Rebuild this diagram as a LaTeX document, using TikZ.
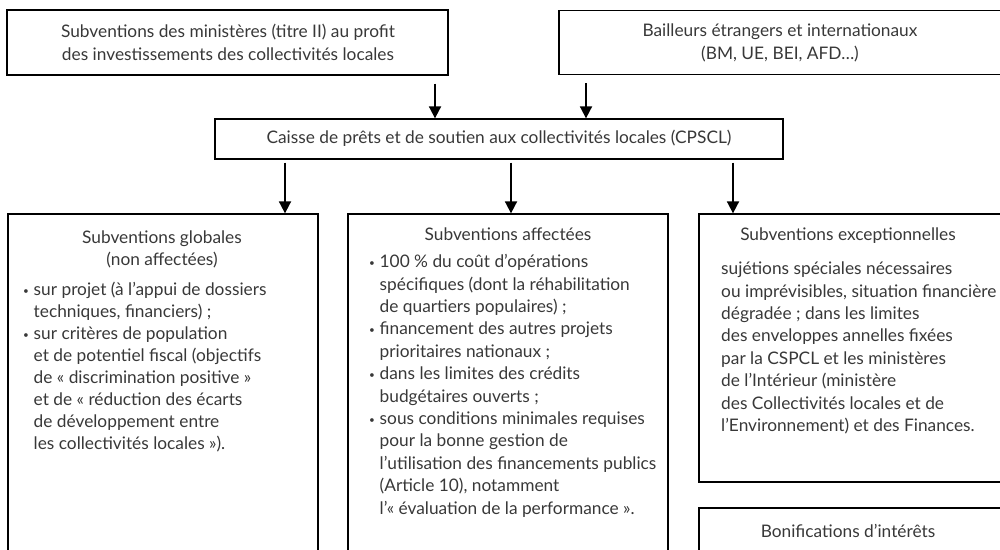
\documentclass[tikz,border=0pt]{standalone}
\usepackage{fontspec}
\setmainfont{Lato}
\usetikzlibrary{arrows.meta}
\definecolor{ink}{HTML}{383838}
\begin{document}
\begin{tikzpicture}[x=1pt,y=-1pt,
  box/.style={draw=black, line width=1.3pt, rectangle, inner sep=0pt},
  txt/.style={text=ink, inner sep=0pt},
  lead/.style={font=\fontsize{17.3}{#1}\selectfont},
  arr/.style={line width=1.8pt, -{Triangle[length=12pt,width=12pt]}}]
% first-line strut, bullet and hanging indent
\newcommand\fl{\rule{0pt}{15pt}}
\newcommand\itm{\makebox[10.5pt][l]{\raisebox{1.2pt}{\fontsize{10}{10}\selectfont\textbullet}}}
\newcommand\cnt{\hspace*{10.5pt}}
\useasboundingbox (0,0) rectangle (1000,549);
\clip (0,0) rectangle (1000,549);

% sources
\node[box, minimum width=441, minimum height=65] (A) at (227.5,42.5) {};
\node[txt, lead=22.5, align=center, anchor=north] (At) at (228,22.5) {\fl Subventions des ministères (titre II) au profit\\des investissements des collectivités locales};
\node[box, minimum width=442, minimum height=64] (B) at (780,42.5) {};
\node[txt, lead=23, align=center, anchor=north] (Bt) at (780,21.5) {\fl Bailleurs étrangers et internationaux\\(BM, UE, BEI, AFD…)};

% fund
\node[box, minimum width=568, minimum height=40] (C) at (499,139) {};
\node[txt, lead=20, anchor=north] (Ct) at (499,128.5) {\fl Caisse de prêts et de soutien aux collectivités locales (CPSCL)};

% destination boxes
\node[box, minimum width=310, minimum height=400] (L) at (163,414) {};
\node[box, minimum width=320, minimum height=400] (M) at (508,414) {};
\node[box, minimum width=302, minimum height=268] (R) at (850,348) {};
\node[box, minimum width=302, minimum height=120] (S) at (850,568) {};

% arrows
\coordinate (x1) at (435,0);
\coordinate (x2) at (586,0);
\coordinate (y1) at (285,0);
\coordinate (y2) at (511,0);
\coordinate (y3) at (733,0);
\draw[arr, shorten <=8pt] (x1 |- A.south) -- (x1 |- C.north);
\draw[arr, shorten <=8pt] (x2 |- B.south) -- (x2 |- C.north);
\draw[arr, shorten <=3pt] (y1 |- C.south) -- (y1 |- L.north);
\draw[arr, shorten <=3pt] (y2 |- C.south) -- (y2 |- M.north);
\draw[arr, shorten <=3pt] (y3 |- C.south) -- (y3 |- R.north);

% texts of the left box
\node[txt, lead=22.5, align=center, anchor=north] (Lh) at (162,228) {\fl Subventions globales\\(non affectées)};
\node[txt, lead=22, align=left, anchor=north west] (Lb) at (23,280.5) {%
\fl\itm sur projet (à l’appui de dossiers\\
\cnt techniques, financiers) ;\\
\itm sur critères de population\\
\cnt et de potentiel fiscal (objectifs\\
\cnt de « discrimination positive »\\
\cnt et de « réduction des écarts\\
\cnt de développement entre\\
\cnt les collectivités locales »).};

% texts of the middle box
\node[txt, lead=20, anchor=north] (Mh) at (508,225.5) {\fl Subventions affectées};
\node[txt, lead=22.4, align=left, anchor=north west] (Mb) at (369,252.5) {%
\fl\itm 100 \% du coût d’opérations\\
\cnt spécifiques (dont la réhabilitation\\
\cnt de quartiers populaires) ;\\
\itm financement des autres projets\\
\cnt prioritaires nationaux ;\\
\itm dans les limites des crédits\\
\cnt budgétaires ouverts ;\\
\itm sous conditions minimales requises\\
\cnt pour la bonne gestion de\\
\cnt l’utilisation des financements publics\\
\cnt (Article 10), notamment\\
\cnt l’« évaluation de la performance ».};

% texts of the right boxes
\node[txt, lead=20, anchor=north] (Rh) at (848,225.5) {\fl Subventions exceptionnelles};
\node[txt, lead=22.4, align=left, anchor=north west] (Rb) at (721,259.5) {%
\fl sujétions spéciales nécessaires\\
ou imprévisibles, situation financière\\
dégradée ; dans les limites\\
des enveloppes annelles fixées\\
par la CSPCL et les ministères\\
de l’Intérieur (ministère\\
des Collectivités locales et de\\
l’Environnement) et des Finances.};
\node[txt, lead=20, anchor=north] (Sh) at (848,522.5) {\fl Bonifications d’intérêts};
\end{tikzpicture}
\end{document}
